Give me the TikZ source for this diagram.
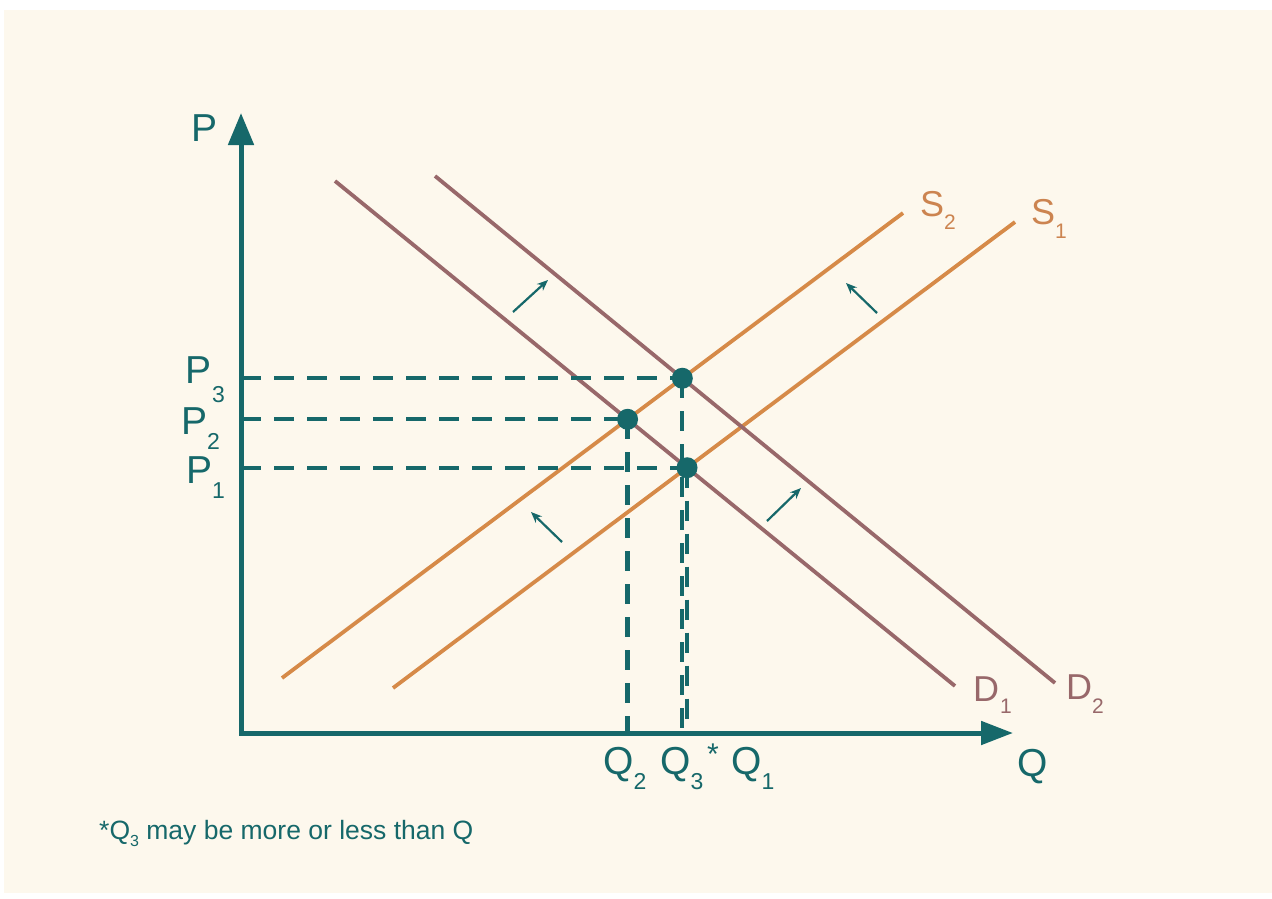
\documentclass[tikz,border=0pt]{standalone}
\usepackage{fontspec}
\setmainfont{Liberation Sans}
\usetikzlibrary{arrows.meta}
\definecolor{cream}{RGB}{253,248,237}
\definecolor{axcol}{RGB}{22,104,106}
\definecolor{supcol}{RGB}{214,138,72}
\definecolor{demcol}{RGB}{152,104,106}
\definecolor{slabcol}{RGB}{204,132,80}
\newcommand\lowsub[3]{\raisebox{-#1}{\fontsize{#2}{#2}\selectfont #3}}
\begin{document}
\begin{tikzpicture}[x=1pt,y=-1pt,
  axis/.style={draw=axcol, line width=5pt},
  supply/.style={draw=supcol, line width=3.8pt},
  demand/.style={draw=demcol, line width=3.8pt},
  guide/.style={draw=axcol, line width=4.2pt, dash pattern=on 20pt off 13pt},
  dot/.style={circle, fill=axcol, inner sep=0pt, minimum size=21pt},
  shiftarrow/.style={draw=axcol, line width=2.2pt, -{Stealth[length=11pt,width=9pt]}},
  lbl/.style={inner sep=0pt, anchor=base west, text=axcol, font=\fontsize{39}{41}\selectfont},
  slbl/.style={inner sep=0pt, anchor=base west, text=slabcol, font=\fontsize{36}{38}\selectfont},
  dlbl/.style={inner sep=0pt, anchor=base west, text=demcol, font=\fontsize{36}{38}\selectfont},
  note/.style={inner sep=0pt, anchor=base west, text=axcol, font=\fontsize{26.5}{28}\selectfont},
]
\useasboundingbox (0,0) rectangle (1272,899);
\fill[white] (0,0) rectangle (1272,899);
\fill[cream] (4,10) rectangle (1272,893);

% curve end points
\coordinate (s2a) at (282,678);
\coordinate (s2b) at (903,213);
\coordinate (s1a) at (393,688);
\coordinate (s1b) at (1015,222);
\coordinate (d1a) at (335,181);
\coordinate (d1b) at (955,686);
\coordinate (d2a) at (435,176);
\coordinate (d2b) at (1055,683);

% axes
\coordinate (ytip) at (241,113);
\coordinate (origin) at (241,733);
\coordinate (xtip) at (1013,733);

% curves
\draw[supply] (s2a) -- (s2b);
\draw[supply] (s1a) -- (s1b);
\draw[demand] (d1a) -- (d1b);
\draw[demand] (d2a) -- (d2b);

% equilibria
\coordinate (E3) at (intersection of s2a--s2b and d2a--d2b);
\coordinate (E2) at (intersection of s2a--s2b and d1a--d1b);
\coordinate (E1) at (intersection of s1a--s1b and d1a--d1b);

% guides
\draw[guide] (E3 -| origin) -- (E3);
\draw[guide] (E2 -| origin) -- (E2);
\draw[guide] (E1 -| origin) -- (E1);
\draw[guide] (E3) -- (E3 |- origin);
\draw[guide] (E2) -- (E2 |- origin);
\draw[guide] (E1) -- (E1 |- origin);

\draw[axis, {Triangle[length=32pt,width=25pt]}-{Triangle[length=32pt,width=23pt]}]
  (ytip) -- (origin) -- (xtip);

\node[dot] (e3) at (E3) {};
\node[dot] (e2) at (E2) {};
\node[dot] (e1) at (E1) {};

% shift arrows
\coordinate (a1s) at (513,312); \coordinate (a1e) at (548,280);
\coordinate (a2s) at (877,313); \coordinate (a2e) at (846,283);
\coordinate (a3s) at (562,542); \coordinate (a3e) at (531,512);
\coordinate (a4s) at (767,521); \coordinate (a4e) at (801,488);
\draw[shiftarrow] (a1s) -- (a1e);
\draw[shiftarrow] (a2s) -- (a2e);
\draw[shiftarrow] (a3s) -- (a3e);
\draw[shiftarrow] (a4s) -- (a4e);

% labels
\node[lbl] (pax) at (191,141) {P};
\node[lbl] (qax) at (1017,776) {Q};
\node[lbl] (p3) at (185,383) {P\kern1pt\lowsub{19pt}{23}{3}};
\node[lbl] (p2) at (181,434) {P\kern0pt\lowsub{15pt}{23}{2}};
\node[lbl] (p1) at (186,483) {P\kern0pt\lowsub{15pt}{23}{1}};
\node[lbl] (q2) at (603,774) {Q\kern0pt\lowsub{15pt}{23}{2}};
\node[lbl] (q3) at (660,774) {Q\kern0pt\lowsub{15pt}{23}{3}};
\node[lbl, font=\fontsize{30}{30}\selectfont] (ast) at (707,764) {*};
\node[lbl] (q1) at (731,774) {Q\kern0pt\lowsub{15pt}{23}{1}};

\node[slbl] (s2l) at (920,216) {S\kern0pt\lowsub{13pt}{21}{2}};
\node[slbl] (s1l) at (1031,224) {S\kern0pt\lowsub{14pt}{21}{1}};
\node[dlbl] (d1l) at (973,701) {D\kern1pt\lowsub{12pt}{21}{1}};
\node[dlbl] (d2l) at (1066,699) {D\kern0pt\lowsub{14pt}{21}{2}};

\node[note] (fn) at (99,839) {*Q\lowsub{7pt}{16}{3} may be more or less than Q};
\end{tikzpicture}
\end{document}
